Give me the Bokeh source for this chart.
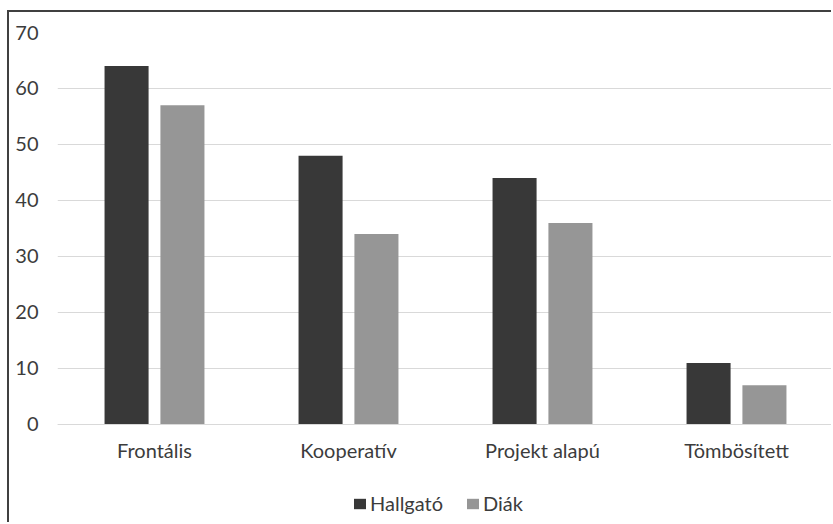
from bokeh.plotting import figure
from bokeh.models import FactorRange, Range1d, Legend, LegendItem, ColumnDataSource, FixedTicker
from bokeh.transform import dodge
from bokeh.embed import file_html
from bokeh.resources import INLINE

categories = ["Frontális", "Kooperatív", "Projekt alapú", "Tömbösített"]
hallgato = [64, 48, 44, 11]
diak = [57, 34, 36, 7]
series_names = ["Hallgató", "Diák"]
y_ticks = [0, 10, 20, 30, 40, 50, 60, 70]

source = ColumnDataSource(dict(cat=categories, h=hallgato, d=diak))

FONT = "Lato"
TEXT = "#3c3c3c"

# frame extends below zero to leave room for the category labels and legend
p = figure(x_range=FactorRange(*categories, range_padding=0), y_range=Range1d(-17.86, 70),
           width=824, height=512, output_backend="svg", toolbar_location=None,
           min_border_left=48, min_border_right=0, min_border_top=20, min_border_bottom=0,
           styles={"margin-left": "7px", "margin-top": "10px",
                   "border-top": "2px solid #404040", "border-left": "2px solid #404040"})
p.x_range.range_padding = 0

r1 = p.vbar(x=dodge("cat", -0.144, range=p.x_range), top="h", bottom=0, width=0.227, source=source,
            fill_color="#383838", line_color=None)
r2 = p.vbar(x=dodge("cat", 0.144, range=p.x_range), top="d", bottom=0, width=0.227, source=source,
            fill_color="#969696", line_color=None)

p.outline_line_color = None
p.background_fill_color = "white"
p.border_fill_color = "white"

p.xgrid.grid_line_color = None
p.ygrid.grid_line_color = "#d9d9d9"
p.ygrid.grid_line_width = 1
p.yaxis.ticker = FixedTicker(ticks=y_ticks)

p.yaxis.axis_line_color = None
p.yaxis.major_tick_line_color = None
p.yaxis.minor_tick_line_color = None
p.yaxis.major_label_standoff = 13
p.yaxis.major_label_text_font = FONT
p.yaxis.major_label_text_font_size = "20px"
p.yaxis.major_label_text_color = TEXT

p.xaxis.fixed_location = 0
p.xaxis.axis_line_color = "#d9d9d9"
p.xaxis.major_tick_line_color = None
p.xaxis.minor_tick_line_color = None
p.xaxis.major_label_standoff = 8
p.xaxis.major_label_text_font = FONT
p.xaxis.major_label_text_font_size = "20px"
p.xaxis.major_label_text_color = TEXT

legend = Legend(items=[LegendItem(label=series_names[0], renderers=[r1]),
                       LegendItem(label=series_names[1], renderers=[r2])],
                orientation="horizontal", location=(295, 9),
                glyph_width=15, glyph_height=13, label_standoff=3, spacing=22,
                padding=0, margin=0, border_line_color=None, background_fill_alpha=0,
                label_text_font=FONT, label_text_font_size="20px", label_text_color=TEXT)
p.add_layout(legend, "center")

open("out.html", "w").write(file_html(p, INLINE))
